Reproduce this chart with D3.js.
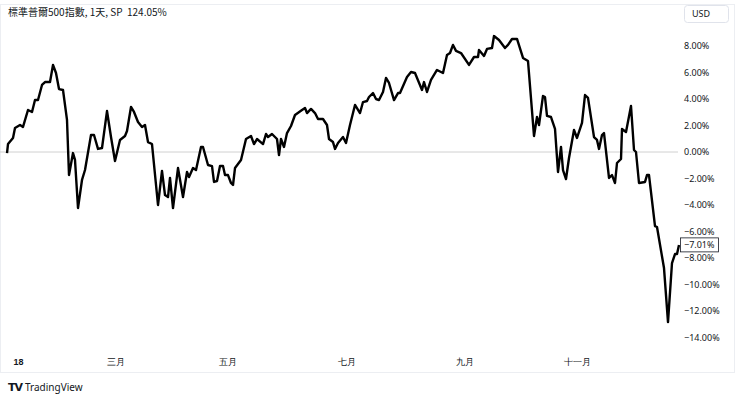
<!DOCTYPE html>
<html><head><meta charset="utf-8">
<script src="https://cdn.jsdelivr.net/npm/d3@7"></script>
<style>body{margin:0;background:#fff}svg{font-family:"Noto Sans CJK TC","Noto Sans",sans-serif}</style>
</head><body><svg id="c" width="740" height="400"></svg>
<script>
const sessions=[0,1,6,8,13,16,21,25,28,31,35,38,43,46,49,52,56,60,62,66,68,71,75,78,84,87,91,95,100,104,108,113,118,120,124,127,131,135,138,141,145,151,155,158,161,163,166,171,176,180,182,186,189,194,196,201,205,207,210,213,216,218,221,224,226,228,231,234,239,244,247,250,256,259,261,265,270,272,274,277,280,284,288,295,298,300,304,308,311,316,320,322,326,328,331,336,339,343,348,353,356,360,362,366,369,372,376,379,382,387,391,393,400,404,408,415,417,420,424,430,436,440,443,446,449,454,462,467,471,472,477,480,485,487,492,498,501,505,510,516,521,527,530,532,536,538,540,544,548,551,554,556,559,562,567,570,575,578,581,587,590,592,595,597,602,605,608,610,614,615,619,624,627,629,632,638,640,642,648,650,657,661,665,668,670,672];
const values=[-0.08,0.60,1.06,1.81,2.04,1.89,3.17,3.02,3.92,3.92,5.06,5.28,5.28,6.57,5.96,4.75,4.68,2.42,-1.74,-0.08,-0.60,-4.23,-2.11,-1.36,1.28,1.28,0.23,0.30,3.09,1.13,-0.68,0.91,1.21,1.58,3.40,3.02,2.26,1.89,2.04,0.75,0.60,-4.00,-1.43,-3.25,-3.40,-1.96,-4.23,-1.21,-3.40,-1.51,-1.89,-1.21,-1.36,0.38,0.38,-0.98,-1.06,-2.26,-2.19,-1.06,-1.06,-1.74,-1.74,-2.34,-2.49,-1.21,-0.91,-0.60,0.98,1.21,0.60,0.98,0.60,1.36,1.13,1.36,0.98,-0.23,0.98,0.38,1.43,1.96,2.79,3.17,3.32,2.94,3.25,2.94,2.49,2.49,2.04,0.98,0.75,0.23,0.68,1.13,0.68,2.04,3.55,2.94,3.77,3.85,4.15,4.45,4.00,3.92,4.53,5.59,5.21,3.92,4.45,4.45,5.66,6.04,5.96,4.68,5.28,4.53,5.44,6.19,5.96,7.32,7.47,8.08,7.63,7.47,6.57,7.17,7.17,7.70,7.25,7.78,7.85,8.75,8.45,7.85,8.08,8.53,8.53,7.10,6.87,1.21,2.64,2.04,4.23,4.15,2.72,2.64,1.74,-1.51,0.38,-1.36,-2.04,-0.45,1.66,1.06,2.19,4.30,4.08,1.13,0.91,0.23,1.28,1.43,-1.96,-1.74,-2.34,-0.83,-0.53,1.74,1.51,3.47,0.15,0.00,-2.34,-2.26,-1.74,-1.74,-5.59,-5.66,-8.76,-12.84,-8.38,-7.70,-7.70,-7.01];
const monthTicks=[6,108,220,339,457,570];
const monthLabels=["18","三月","五月","七月","九月","十一月"];
const yTicks=[8,6,4,2,0,-2,-4,-6,-8,-10,-12,-14];

const svg=d3.select("#c");
const x=d3.scaleLinear().domain([0,672]).range([7,679]);
const y=d3.scaleLinear().domain([-14,8]).range([337.5,46]);
const n=Math.min(sessions.length,values.length);
const pts=d3.range(n).map(i=>[sessions[i],values[i]]);

svg.append("rect").attr("x",0.5).attr("y",4.5).attr("width",734).attr("height",368).attr("fill","none").attr("stroke","#eceef2");
svg.append("line").attr("x1",0).attr("x2",678).attr("y1",y(0)).attr("y2",y(0)).attr("stroke","#d0d0d0");
svg.append("path").datum(pts).attr("fill","none").attr("stroke","#000").attr("stroke-width",2.4).attr("stroke-linejoin","round")
  .attr("d",d3.line().x(d=>x(d[0])).y(d=>y(d[1])));

const ya=svg.append("g").attr("transform","translate(680,0)")
  .call(d3.axisRight(y).tickValues(yTicks).tickSize(0).tickPadding(4).tickFormat(d=>d3.format(".2f")(d).replace("-","\u2212")+"%"));
ya.select(".domain").remove();
ya.selectAll("text").attr("font-size",9).attr("fill","#131722").attr("font-family","Noto Sans");

const xa=svg.append("g").attr("transform","translate(0,353)")
  .call(d3.axisBottom(x).tickValues(monthTicks).tickSize(0).tickPadding(6).tickFormat((d,i)=>monthLabels[i]));
xa.select(".domain").remove();
xa.selectAll("text").attr("font-size",9).attr("fill","#131722").attr("text-anchor",(d,i)=>i===0?"start":"middle")
  .attr("font-weight",(d,i)=>i===0?"bold":"normal");

const last=values[n-1];
svg.append("rect").attr("x",680.5).attr("y",y(last)-7).attr("width",38).attr("height",14).attr("fill","#fff").attr("stroke","#131722").attr("stroke-width",0.8);
svg.append("text").attr("x",684).attr("y",y(last)+3.5).attr("font-size",9).attr("font-family","Noto Sans").attr("fill","#131722").text("\u2212"+Math.abs(last).toFixed(2)+"%");

svg.append("rect").attr("x",684.5).attr("y",5.5).attr("width",44).attr("height",17).attr("rx",3).attr("fill","#fff").attr("stroke","#e0e3eb");
svg.append("text").attr("x",692).attr("y",17).attr("font-size",9).attr("font-family","Noto Sans").attr("fill","#131722").text("USD");

svg.append("text").attr("x",8).attr("y",16).attr("font-size",10).attr("fill","#131722").attr("xml:space","preserve").style("white-space","pre").text("標準普爾500指數, 1天, SP  124.05%");

svg.append("text").attr("x",8).attr("y",391).attr("font-size",11).attr("font-weight","900").attr("font-family","DejaVu Sans").attr("letter-spacing",-1).attr("fill","#131722").text("TV");
svg.append("text").attr("x",25).attr("y",391).attr("font-size",10).attr("font-family","Noto Sans").attr("fill","#131722").text("TradingView");
</script></body></html>
